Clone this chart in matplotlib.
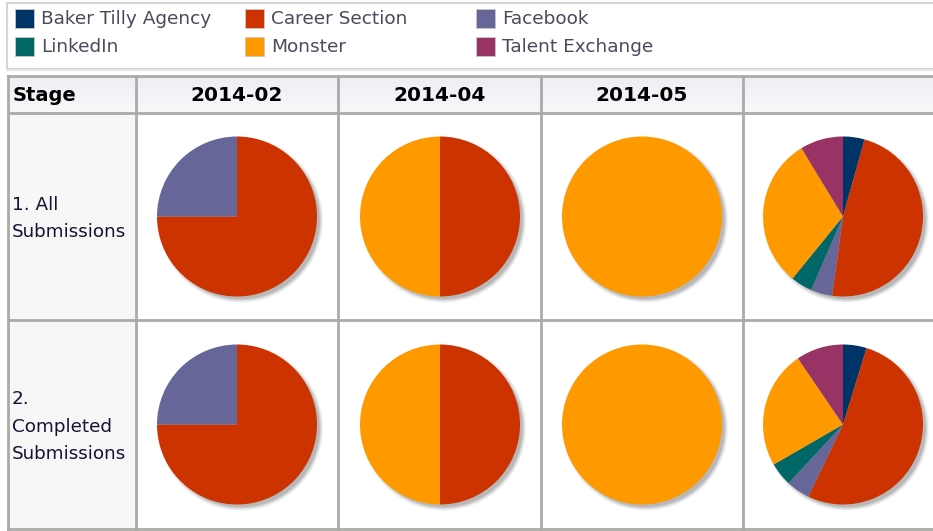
import numpy as np
import matplotlib
matplotlib.use('Agg')
import matplotlib.pyplot as plt
from matplotlib.patches import Rectangle, Circle

# data
sources = ['Baker Tilly Agency', 'Career Section', 'Facebook',
           'LinkedIn', 'Monster', 'Talent Exchange']
colors = ['#003366', '#cc3300', '#666699', '#006666', '#ff9900', '#993366']
periods = ['2014-02', '2014-04', '2014-05', '']
stages = ['1. All\nSubmissions', '2.\nCompleted\nSubmissions']

# counts per source (same order as sources), one list per period
all_submissions = [[0, 3, 1, 0, 0, 0],
                   [0, 1, 0, 0, 1, 0],
                   [0, 0, 0, 0, 1, 0],
                   [1, 11, 1, 1, 7, 2]]
completed_submissions = [[0, 3, 1, 0, 0, 0],
                         [0, 1, 0, 0, 1, 0],
                         [0, 0, 0, 0, 1, 0],
                         [1, 11, 1, 1, 5, 2]]
rows = [all_submissions, completed_submissions]

W, H = 933, 531
fig = plt.figure(figsize=(W / 100, H / 100), dpi=100)
ax = fig.add_axes([0, 0, 1, 1])
ax.set_xlim(0, W)
ax.set_ylim(H, 0)
ax.axis('off')

text_col = '#4a4a5c'
grid_col = '#aaaaa6'

# legend box
ax.add_patch(Rectangle((7, 3), W, 66, facecolor='white', edgecolor='#d4d4d4', lw=1.5))
leg_x = [15, 245, 476]
leg_y = [18.5, 46.5]
for i, (name, c) in enumerate(zip(sources, colors)):
    x = leg_x[i % 3]
    y = leg_y[i // 3]
    ax.add_patch(Rectangle((x, y - 9.5), 19, 19, facecolor=c, edgecolor='#c8c8c8', lw=0.6))
    ax.text(x + 26, y, name, fontsize=13.3, color=text_col, va='center', ha='left')

ax.plot([7, W], [70, 70], color='#e4e4e4', lw=1.5)

# table geometry
col_edges = [8, 136, 338, 541, 743, 940]
row_edges = [76, 113, 320, 529]

# header background gradient
grad = np.linspace(0, 1, 50).reshape(-1, 1)
ax.imshow(grad, extent=(col_edges[0], W, row_edges[1], row_edges[0]),
          cmap=matplotlib.colors.LinearSegmentedColormap.from_list('h', ['#eceef3', '#f8f8fa']),
          aspect='auto', zorder=0)
# stage column background
ax.add_patch(Rectangle((col_edges[0], row_edges[1]), col_edges[1] - col_edges[0],
                       row_edges[-1] - row_edges[1], facecolor='#f7f7f7', edgecolor='none'))

for x in col_edges:
    ax.plot([x, x], [row_edges[0], row_edges[-1] + 3], color=grid_col, lw=2, zorder=3)
for y in row_edges:
    ax.plot([col_edges[0], W], [y, y], color=grid_col, lw=2, zorder=3)

# header text
ax.text(13, (row_edges[0] + row_edges[1]) / 2 + 1, 'Stage', fontsize=14, fontweight='bold',
        color='black', va='center', ha='left')
for j, p in enumerate(periods):
    cx = (col_edges[j + 1] + col_edges[j + 2]) / 2
    ax.text(cx, (row_edges[0] + row_edges[1]) / 2 + 1, p, fontsize=14.5, fontweight='bold',
            color='black', va='center', ha='center')

# stage labels
for i, s in enumerate(stages):
    cy = (row_edges[i + 1] + row_edges[i + 2]) / 2 + 2
    ax.text(12, cy, s, fontsize=13.2, color='#141430', va='center', ha='left',
            linespacing=1.7)

# pies
radius_px = 80
box = 190
pie_x = [237, 440, 642, 843]
for i, data in enumerate(rows):
    cy = (row_edges[i + 1] + row_edges[i + 2]) / 2
    for j, vals in enumerate(data):
        cx = pie_x[j]
        pax = fig.add_axes([(cx - box / 2) / W, 1 - (cy + box / 2) / H, box / W, box / H])
        lim = box / 2 / radius_px
        # soft drop shadow
        for k, a in enumerate([0.16, 0.12, 0.09, 0.06]):
            pax.add_patch(Circle((0.045, -0.045), 0.99 + 0.014 * k, color='#444444',
                                 alpha=a, lw=0))
        v = [x for x in vals if x > 0]
        c = [cc for x, cc in zip(vals, colors) if x > 0]
        pax.pie(v, colors=c, startangle=90, counterclock=False, radius=1,
                wedgeprops=dict(lw=0))
        pax.set_xlim(-lim, lim)
        pax.set_ylim(-lim, lim)
        pax.set_aspect('equal')
        pax.axis('off')

fig.savefig('out.png', dpi=100)
